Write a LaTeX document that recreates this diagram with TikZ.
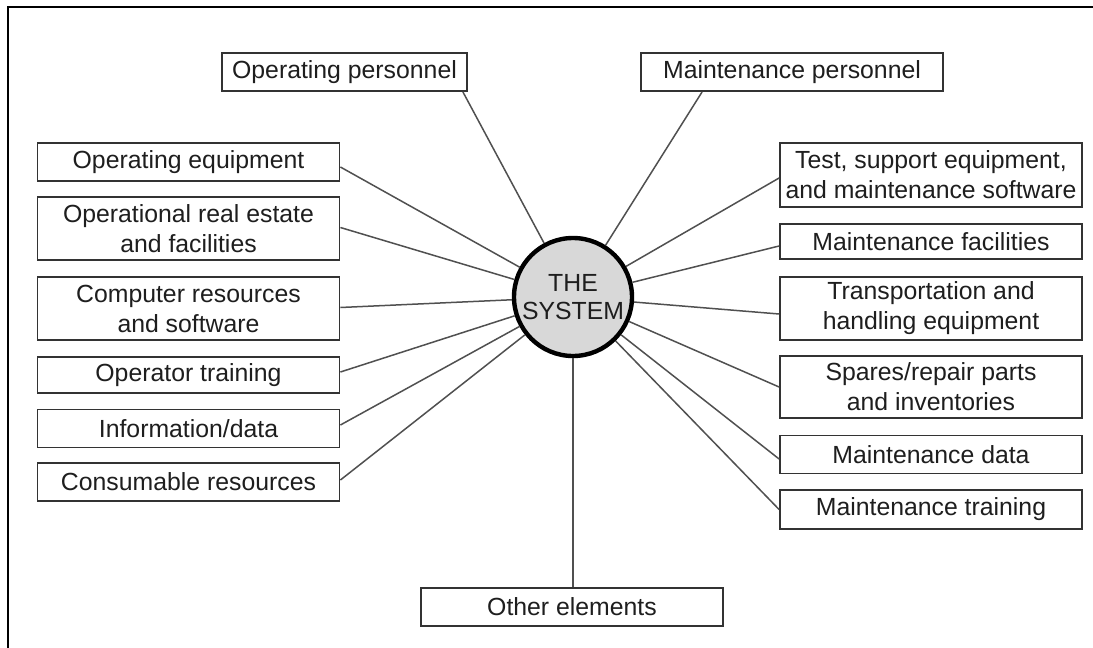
\documentclass[tikz,border=0pt]{standalone}
\usepackage{fontspec}
\setmainfont{Liberation Sans}
\definecolor{txt}{HTML}{1E1E1E}
\definecolor{boxline}{HTML}{333333}
\definecolor{conn}{HTML}{505050}
\definecolor{sysfill}{HTML}{D8D8D8}
\begin{document}
\begin{tikzpicture}[x=0.5pt,y=-0.5pt,
  font=\fontsize{12.4}{15}\selectfont,
  elem/.style={draw=boxline,line width=0.9pt,text=txt,align=center,inner sep=0pt,
    minimum width=151pt},
  h1/.style={minimum height=19pt},
  h2/.style={minimum height=31.5pt},
  link/.style={draw=conn,line width=0.75pt}]
\useasboundingbox (0,0) rectangle (1093,648);
\fill[white] (0,0) rectangle (1093,648);
\draw[line width=1pt,black] (8,648) -- (8,7) -- (1093,7);

% centre
\node[circle,draw=black,line width=2.2pt,fill=sysfill,minimum size=59pt,inner sep=0pt,
  text=txt,align=center,font=\fontsize{12.4}{14}\selectfont] (sys) at (573,297) {THE\\SYSTEM};

% top
\node[elem,h1,minimum width=122.5pt] (opp) at (344.5,72) {Operating personnel};
\node[elem,h1] (mp) at (792,72) {Maintenance personnel};

% left
\node[elem,h1] (oe) at (188.5,162) {Operating equipment};
\node[elem,h2] (ore) at (188.5,228.5) {Operational real estate\\and facilities};
\node[elem,h2] (crs) at (188.5,308.5) {Computer resources\\and software};
\node[elem,h1,minimum height=18pt] (ot) at (188.5,375) {Operator training};
\node[elem,h1] (inf) at (188.5,428.5) {Information/data};
\node[elem,h1] (cr) at (188.5,482) {Consumable resources};

% right
\node[elem,minimum height=32pt] (tse) at (931,175) {Test, support equipment,\\and maintenance software};
\node[elem,minimum height=17.5pt] (mf) at (931,241.5) {Maintenance facilities};
\node[elem,h2] (the) at (931,308.5) {Transportation and\\handling equipment};
\node[elem,minimum height=31pt] (srp) at (931,387) {Spares/repair parts\\and inventories};
\node[elem,h1] (md) at (931,454.5) {Maintenance data};
\node[elem,minimum height=19.5pt] (mt) at (931,509.5) {Maintenance training};

% bottom
\node[elem,h1] (oth) at (572,607) {Other elements};

% connectors
\draw[link] ([xshift=-2.5pt]opp.south east) -- (sys);
\draw[link] ([xshift=31pt]mp.south west) -- (sys);
\draw[link] ([yshift=-2.5pt]oe.east) -- (sys);
\draw[link] ([yshift=0.5pt]ore.east) -- (sys);
\draw[link] ([yshift=0.5pt]crs.east) -- (sys);
\draw[link] ([yshift=1.5pt]ot.east) -- (sys);
\draw[link] ([yshift=1.75pt]inf.east) -- (sys);
\draw[link] ([yshift=1pt]cr.east) -- (sys);
\draw[link] ([yshift=-1.5pt]tse.west) -- (sys);
\draw[link] ([yshift=-2.25pt]mf.west) -- (sys);
\draw[link] ([yshift=-2.75pt]the.west) -- (sys);
\draw[link] (srp.west) -- (sys);
\draw[link] ([yshift=-2.25pt]md.west) -- (sys);
\draw[link] (mt.west) -- (sys);
\draw[link] ([xshift=0.5pt]oth.north) -- (sys);
\end{tikzpicture}
\end{document}
